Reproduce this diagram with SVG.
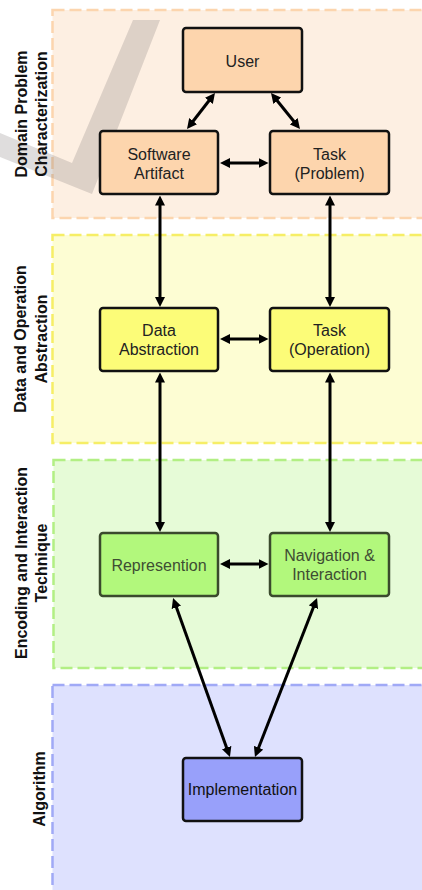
<svg xmlns="http://www.w3.org/2000/svg" width="422" height="890" viewBox="0 0 422 890">
<style>
.panel{stroke-width:2.5;stroke-dasharray:12 5}
.node rect{stroke-width:2.5}
.nt{font-family:"Liberation Sans",Arial,sans-serif;font-size:16px;text-anchor:middle}
.lab{font-family:"Liberation Sans",Arial,sans-serif;font-size:16px;font-weight:bold;text-anchor:middle;fill:#111}
.con path{fill:none;stroke:#000;stroke-width:3;marker-start:url(#ah);marker-end:url(#ah)}
</style>
<defs>
<marker id="ah" viewBox="0 0 10 10" markerUnits="userSpaceOnUse" markerWidth="10" markerHeight="10" refX="3" refY="5" orient="auto-start-reverse">
<path d="M0,0 L10,5 L0,10 z" fill="#000"/>
</marker>
</defs>
<rect width="422" height="890" fill="#fff"/>
<g id="panels">
<rect class="panel" x="52.5" y="10" width="390" height="208" fill="#fdefe2" stroke="#fcd5ae"/>
<rect class="panel" x="52.5" y="235" width="390" height="208" fill="#fdfdd3" stroke="#f6ee66"/>
<rect class="panel" x="53.5" y="460" width="390" height="208" fill="#e6fbd7" stroke="#b2ef84"/>
<rect class="panel" x="52.5" y="685" width="390" height="220" fill="#dee1fe" stroke="#a0a9f6"/>
</g>
<polygon id="watermark" points="0,133 72,163 133,20 160,20 92,194 0,157" fill="#7a7070" opacity="0.24"/>
<g id="labels">
<text class="lab" transform="translate(27,114) rotate(-90)">Domain Problem</text>
<text class="lab" transform="translate(47,114) rotate(-90)">Characterization</text>
<text class="lab" transform="translate(25.5,339) rotate(-90)">Data and Operation</text>
<text class="lab" transform="translate(46.5,339) rotate(-90)">Abstraction</text>
<text class="lab" transform="translate(26.5,563) rotate(-90)">Encoding and Interaction</text>
<text class="lab" transform="translate(46.5,563) rotate(-90)">Technique</text>
<text class="lab" transform="translate(45,789) rotate(-90)">Algorithm</text>
</g>
<g id="user" class="node"><rect x="183" y="28" width="119" height="64" rx="3" fill="#fdd5ad" stroke="#111"/><text class="nt" x="242.5" y="67" fill="#222">User</text></g>
<g id="software-artifact" class="node"><rect x="100" y="131" width="118" height="63" rx="3" fill="#fdd5ad" stroke="#111"/><text class="nt" x="159" y="160" fill="#222">Software</text><text class="nt" x="159" y="179" fill="#222">Artifact</text></g>
<g id="task-problem" class="node"><rect x="270" y="131" width="119" height="63" rx="3" fill="#fdd5ad" stroke="#111"/><text class="nt" x="329.5" y="160" fill="#222">Task</text><text class="nt" x="329.5" y="179" fill="#222">(Problem)</text></g>
<g id="data-abstraction" class="node"><rect x="100" y="308" width="118" height="63" rx="3" fill="#fcfc78" stroke="#111"/><text class="nt" x="159" y="336" fill="#222">Data</text><text class="nt" x="159" y="355" fill="#222">Abstraction</text></g>
<g id="task-operation" class="node"><rect x="270" y="308" width="119" height="63" rx="3" fill="#fcfc78" stroke="#111"/><text class="nt" x="329.5" y="336" fill="#222">Task</text><text class="nt" x="329.5" y="355" fill="#222">(Operation)</text></g>
<g id="represention" class="node"><rect x="100" y="533" width="118" height="63" rx="3" fill="#b2f87c" stroke="#3a4a2c"/><text class="nt" x="159" y="570.5" fill="#3e4d33">Represention</text></g>
<g id="navigation-interaction" class="node"><rect x="270" y="533" width="119" height="63" rx="3" fill="#b2f87c" stroke="#3a4a2c"/><text class="nt" x="329.5" y="561" fill="#3e4d33">Navigation &amp;</text><text class="nt" x="329.5" y="580" fill="#3e4d33">Interaction</text></g>
<g id="implementation" class="node"><rect x="183" y="758" width="119" height="63" rx="3" fill="#98a0fa" stroke="#111"/><text class="nt" x="242.5" y="795" fill="#111">Implementation</text></g>
<g id="connectors" class="con">
<path d="M210.7,98.5 L191.3,123.5"/>
<path d="M275.4,98.5 L295.6,123.5"/>
<path d="M227,163 L261.5,163"/>
<path d="M160,202.5 L160,300"/>
<path d="M330,202.5 L330,300"/>
<path d="M227,339 L261.5,339"/>
<path d="M160,379.5 L160,525"/>
<path d="M330,379.5 L330,525"/>
<path d="M227,564 L261.5,564"/>
<path d="M175.4,604.6 L227.6,750.4"/>
<path d="M314.5,604.5 L257.5,750.5"/>
</g>
</svg>
